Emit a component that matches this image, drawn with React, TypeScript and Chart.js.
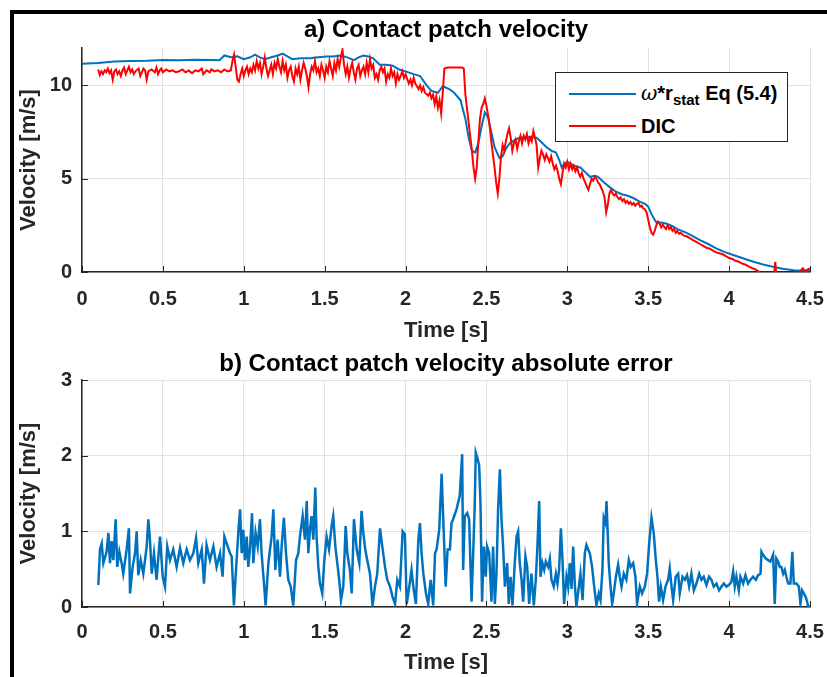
import React, { useEffect, useRef } from "react";
import { Chart, registerables } from "chart.js";

Chart.register(...registerables);

const FONT = "'Liberation Sans', Arial, Helvetica, sans-serif";

// ---------- data ----------
const timeTicks = [0, 0.5, 1, 1.5, 2, 2.5, 3, 3.5, 4, 4.5];
const velocityTicks = [0, 5, 10];
const errorTicks = [0, 1, 2, 3];

const titleA = "a) Contact patch velocity";
const titleB = "b) Contact patch velocity absolute error";
const xLabel = "Time [s]";
const yLabel = "Velocity [m/s]";

// omega * r_stat  (Eq 5.4)  [t, v]
const omegaSeries: [number, number][] = [
  [0, 11.15], [0.1, 11.2], [0.2, 11.28], [0.3, 11.3], [0.4, 11.32], [0.5, 11.36], [0.6, 11.35], [0.7, 11.37],
  [0.8, 11.36], [0.85, 11.35], [0.88, 11.6], [0.92, 11.5], [0.96, 11.55], [1.0, 11.4], [1.04, 11.5], [1.07, 11.65],
  [1.1, 11.5], [1.13, 11.4], [1.17, 11.5], [1.21, 11.6], [1.24, 11.7], [1.27, 11.55], [1.3, 11.4], [1.35, 11.45],
  [1.41, 11.45], [1.46, 11.5], [1.51, 11.55], [1.55, 11.55], [1.6, 11.6], [1.64, 11.5], [1.68, 11.35], [1.71, 11.5],
  [1.74, 11.6], [1.77, 11.55], [1.8, 11.45], [1.84, 11.1], [1.88, 11.1], [1.92, 11.05], [1.96, 10.85], [2.0, 10.75],
  [2.05, 10.6], [2.09, 10.5], [2.13, 10.0], [2.16, 9.7], [2.2, 9.6], [2.23, 9.95], [2.27, 9.8], [2.3, 9.6],
  [2.34, 9.2], [2.37, 8.2], [2.39, 7.2], [2.41, 6.5], [2.43, 6.4], [2.45, 6.9], [2.47, 7.8], [2.49, 8.55],
  [2.51, 8.3], [2.53, 7.5], [2.55, 6.7], [2.58, 6.1], [2.6, 6.2], [2.62, 6.6], [2.645, 6.9], [2.68, 7.1],
  [2.71, 7.2], [2.74, 7.2], [2.78, 7.25], [2.81, 7.2], [2.84, 6.95], [2.87, 6.7], [2.9, 6.5], [2.93, 6.4],
  [2.95, 6.0], [2.965, 5.6], [2.98, 5.8], [3.0, 5.9], [3.04, 5.7], [3.08, 5.6], [3.11, 5.35], [3.14, 5.1],
  [3.17, 5.15], [3.19, 5.1], [3.22, 4.85], [3.26, 4.56], [3.3, 4.3], [3.34, 4.15], [3.37, 4.1], [3.41, 3.95],
  [3.45, 3.76], [3.48, 3.65], [3.5, 3.5], [3.52, 3.1], [3.55, 2.65], [3.58, 2.65], [3.61, 2.6], [3.65, 2.45],
  [3.68, 2.3], [3.72, 2.16], [3.77, 1.95], [3.82, 1.71], [3.87, 1.5], [3.92, 1.27], [3.97, 1.08], [4.03, 0.9],
  [4.09, 0.72], [4.15, 0.55], [4.21, 0.4], [4.27, 0.28], [4.33, 0.18], [4.4, 0.1], [4.45, 0.07], [4.5, 0.08],
];

// DIC measurement [t, v]  (null = gap)
const dicSeries: [number, number | null][] = [
  [0.10, 10.85], [0.11, 10.55], [0.12, 10.75], [0.13, 10.6], [0.14, 10.8], [0.15, 10.7], [0.16, 10.9], [0.17, 10.65],
  [0.18, 10.8], [0.19, 10.3], [0.20, 10.75], [0.21, 10.85], [0.22, 10.6], [0.23, 10.75], [0.24, 10.5], [0.25, 10.8],
  [0.26, 10.95], [0.27, 10.6], [0.28, 10.8], [0.29, 11.0], [0.30, 10.7], [0.31, 10.85], [0.32, 10.6], [0.33, 10.75],
  [0.35, 10.9], [0.36, 10.5], [0.37, 10.7], [0.38, 10.9], [0.39, 10.8], [0.40, 10.3], [0.41, 10.75], [0.43, 10.85],
  [0.45, 10.7], [0.46, 10.95], [0.47, 10.6], [0.48, 10.8], [0.49, 10.9], [0.50, 10.7], [0.52, 10.85], [0.54, 10.75],
  [0.56, 10.8], [0.58, 10.7], [0.60, 10.75], [0.62, 10.85], [0.64, 10.7], [0.66, 10.8], [0.68, 10.65], [0.70, 10.8],
  [0.72, 10.75], [0.74, 10.9], [0.75, 10.6], [0.77, 10.8], [0.79, 10.7], [0.80, 10.85], [0.82, 10.75], [0.84, 10.8],
  [0.86, 10.7], [0.88, 10.85], [0.90, 10.75], [0.92, 10.8], [0.93, 11.3], [0.94, 11.65], [0.95, 11.0], [0.96, 10.3],
  [0.97, 10.2], [0.98, 10.6], [0.99, 10.9], [1.00, 10.5], [1.01, 10.8], [1.02, 11.0], [1.03, 10.6], [1.04, 10.9],
  [1.05, 10.7], [1.06, 11.1], [1.07, 10.8], [1.08, 11.3], [1.09, 10.9], [1.10, 11.2], [1.11, 10.6], [1.12, 11.0],
  [1.13, 11.5], [1.14, 10.9], [1.15, 10.5], [1.16, 10.8], [1.17, 11.1], [1.18, 10.6], [1.19, 11.2], [1.20, 10.9],
  [1.21, 11.4], [1.22, 11.0], [1.23, 10.7], [1.24, 11.3], [1.25, 10.8], [1.26, 11.1], [1.27, 10.4], [1.28, 10.8],
  [1.29, 11.0], [1.30, 10.5], [1.31, 10.2], [1.32, 10.9], [1.33, 10.6], [1.34, 11.0], [1.35, 10.3], [1.36, 10.8],
  [1.37, 11.2], [1.38, 10.9], [1.39, 10.5], [1.40, 9.9], [1.41, 10.6], [1.42, 11.0], [1.43, 10.8], [1.44, 11.3],
  [1.45, 10.7], [1.46, 10.9], [1.47, 10.5], [1.48, 11.1], [1.49, 10.8], [1.50, 10.4], [1.51, 11.0], [1.52, 10.7],
  [1.53, 11.3], [1.54, 10.9], [1.55, 10.5], [1.56, 11.2], [1.57, 10.8], [1.58, 11.4], [1.59, 11.0], [1.60, 11.5],
  [1.61, 11.9], [1.62, 11.1], [1.63, 10.6], [1.64, 11.0], [1.65, 10.4], [1.66, 10.9], [1.67, 11.2], [1.68, 10.7],
  [1.69, 10.3], [1.70, 10.9], [1.71, 11.1], [1.72, 10.5], [1.73, 10.8], [1.74, 11.0], [1.75, 10.6], [1.76, 11.2],
  [1.77, 10.7], [1.78, 11.4], [1.79, 10.9], [1.80, 11.1], [1.81, 10.4], [1.82, 10.6], [1.83, 10.3], [1.84, 10.8],
  [1.85, 11.0], [1.86, 10.7], [1.87, 10.9], [1.88, 10.2], [1.89, 10.6], [1.90, 10.4], [1.91, 10.9], [1.92, 10.5],
  [1.93, 10.7], [1.94, 10.1], [1.95, 10.6], [1.96, 10.3], [1.97, 10.5], [1.98, 10.75], [1.99, 10.4], [2.00, 10.6],
  [2.02, 10.1], [2.03, 10.3], [2.04, 10.0], [2.05, 10.4], [2.06, 10.1], [2.08, 9.8], [2.09, 10.0], [2.10, 9.7],
  [2.11, 9.9], [2.12, 9.6], [2.14, 9.45], [2.15, 9.6], [2.16, 9.3], [2.17, 9.5], [2.18, 9.0], [2.19, 9.4],
  [2.20, 8.8], [2.21, 9.2], [2.22, 8.5], [2.23, 9.6], [2.24, 10.9], [2.26, 10.95], [2.30, 10.95], [2.35, 10.95],
  [2.36, 10.9], [2.37, 9.5], [2.39, 8.0], [2.41, 6.5], [2.42, 5.6], [2.43, 5.0], [2.44, 5.6], [2.45, 7.0],
  [2.46, 8.2], [2.47, 8.8], [2.48, 9.0], [2.49, 9.3], [2.50, 8.9], [2.51, 8.4], [2.52, 7.8], [2.53, 7.0],
  [2.54, 6.3], [2.55, 5.6], [2.56, 4.8], [2.57, 4.2], [2.58, 5.0], [2.59, 6.2], [2.60, 6.8], [2.61, 6.5],
  [2.62, 7.0], [2.63, 7.4], [2.64, 7.7], [2.65, 7.2], [2.66, 6.5], [2.67, 6.9], [2.68, 7.1], [2.69, 6.6],
  [2.70, 7.0], [2.71, 7.3], [2.72, 6.9], [2.73, 7.3], [2.74, 7.1], [2.75, 7.4], [2.76, 6.9], [2.77, 7.2],
  [2.78, 7.0], [2.79, 7.55], [2.80, 7.2], [2.81, 6.8], [2.82, 5.6], [2.83, 6.1], [2.84, 6.5], [2.85, 6.3],
  [2.86, 6.0], [2.87, 6.3], [2.88, 6.1], [2.89, 5.9], [2.90, 6.2], [2.91, 5.8], [2.92, 5.5], [2.93, 5.7],
  [2.94, 5.4], [2.95, 5.0], [2.96, 4.7], [2.97, 5.3], [2.98, 5.8], [2.99, 5.6], [3.00, 5.9], [3.01, 5.5],
  [3.02, 5.8], [3.03, 5.5], [3.04, 5.7], [3.05, 5.4], [3.06, 5.6], [3.07, 5.3], [3.08, 5.1], [3.09, 5.3],
  [3.10, 5.0], [3.11, 4.8], [3.12, 4.6], [3.13, 4.4], [3.14, 4.7], [3.15, 5.0], [3.16, 4.9], [3.17, 5.1],
  [3.18, 5.0], [3.19, 4.8], [3.20, 4.7], [3.21, 4.5], [3.22, 4.3], [3.23, 4.0], [3.24, 3.2], [3.25, 3.6],
  [3.26, 4.2], [3.27, 4.4], [3.28, 4.2], [3.29, 4.1], [3.30, 4.2], [3.31, 4.0], [3.32, 3.9], [3.33, 4.0],
  [3.34, 3.8], [3.35, 3.9], [3.36, 3.7], [3.37, 3.8], [3.38, 3.65], [3.39, 3.75], [3.40, 3.6], [3.41, 3.7],
  [3.42, 3.55], [3.43, 3.65], [3.44, 3.7], [3.45, 3.5], [3.46, 3.55], [3.47, 3.4], [3.48, 3.35], [3.49, 3.2],
  [3.50, 2.8], [3.51, 2.4], [3.52, 2.1], [3.53, 2.0], [3.54, 2.2], [3.55, 2.5], [3.56, 2.7], [3.57, 2.6],
  [3.58, 2.4], [3.59, 2.55], [3.60, 2.4], [3.61, 2.3], [3.62, 2.5], [3.63, 2.3], [3.64, 2.4], [3.65, 2.2],
  [3.66, 2.3], [3.67, 2.1], [3.68, 2.2], [3.69, 2.05], [3.70, 2.1], [3.72, 1.95], [3.74, 1.9], [3.76, 1.8],
  [3.78, 1.7], [3.80, 1.6], [3.82, 1.5], [3.84, 1.4], [3.86, 1.3], [3.88, 1.25], [3.90, 1.15], [3.92, 1.05],
  [3.94, 1.0], [3.96, 0.95], [3.98, 0.85], [4.00, 0.75], [4.02, 0.7], [4.04, 0.6], [4.06, 0.55], [4.08, 0.45],
  [4.10, 0.4], [4.12, 0.3], [4.14, 0.22], [4.16, 0.15], [4.18, 0.05], [4.19, 0.0], [4.20, null],
  [4.28, 0.0], [4.285, 0.55], [4.29, 0.0], [4.30, null],
  [4.44, 0.05], [4.455, 0.2], [4.47, 0.05], [4.49, 0.15], [4.5, 0.2],
];

// absolute error [t, v]
const errorSeries: [number, number][] = [
  [0.101, 0.29], [0.111, 0.76], [0.122, 0.84], [0.132, 0.58], [0.152, 0.73], [0.163, 0.98], [0.173, 0.58], [0.183, 0.87], [0.194, 0.62], [0.208, 1.16],
  [0.218, 0.53], [0.231, 0.73], [0.245, 0.58], [0.255, 0.44], [0.276, 0.76], [0.290, 1.04], [0.297, 0.18], [0.313, 0.53], [0.328, 0.71], [0.338, 1.00],
  [0.348, 0.42], [0.363, 0.62], [0.379, 0.44], [0.400, 0.80], [0.410, 1.16], [0.420, 0.89], [0.431, 0.44], [0.445, 0.71], [0.461, 0.36], [0.482, 0.93],
  [0.499, 0.40], [0.513, 0.27], [0.527, 0.80], [0.544, 0.62], [0.564, 0.76], [0.585, 0.53], [0.606, 0.78], [0.626, 0.58], [0.647, 0.76], [0.667, 0.62],
  [0.688, 0.71], [0.705, 0.91], [0.719, 0.58], [0.740, 0.76], [0.754, 0.31], [0.770, 0.82], [0.791, 0.62], [0.812, 0.80], [0.832, 0.53], [0.853, 0.71],
  [0.869, 0.40], [0.880, 0.93], [0.894, 0.84], [0.915, 0.71], [0.925, 0.67], [0.939, 0.02], [0.952, 0.49], [0.966, 0.98], [0.977, 1.29], [0.987, 0.71],
  [0.997, 1.02], [1.007, 0.62], [1.018, 0.93], [1.028, 0.53], [1.038, 0.76], [1.051, 1.24], [1.059, 0.58], [1.073, 0.98], [1.086, 0.80], [1.100, 1.16],
  [1.110, 0.71], [1.125, 0.31], [1.135, 0.02], [1.152, 0.58], [1.172, 0.93], [1.183, 1.29], [1.195, 0.49], [1.209, 0.89], [1.224, 0.40], [1.234, 0.80],
  [1.248, 1.18], [1.261, 0.71], [1.275, 0.36], [1.290, 0.27], [1.306, 0.02], [1.323, 0.62], [1.337, 0.71], [1.347, 0.93], [1.364, 1.20], [1.378, 0.89],
  [1.389, 1.40], [1.399, 0.71], [1.409, 1.02], [1.419, 1.20], [1.430, 0.89], [1.442, 1.58], [1.450, 0.93], [1.461, 0.53], [1.471, 0.31], [1.485, 0.18],
  [1.498, 0.62], [1.512, 0.93], [1.527, 0.76], [1.543, 1.07], [1.553, 1.20], [1.566, 0.80], [1.578, 0.58], [1.590, 0.36], [1.601, 0.09], [1.615, 0.27],
  [1.630, 1.07], [1.640, 0.71], [1.656, 0.49], [1.667, 0.18], [1.681, 1.16], [1.698, 0.76], [1.714, 0.58], [1.728, 1.27], [1.739, 0.98], [1.751, 0.76],
  [1.763, 0.62], [1.780, 0.44], [1.796, 0.02], [1.811, 0.27], [1.825, 0.44], [1.842, 1.04], [1.856, 0.80], [1.873, 0.53], [1.887, 0.36], [1.904, 0.27],
  [1.920, 0.13], [1.935, 0.04], [1.949, 0.36], [1.965, 0.27], [1.982, 1.00], [1.996, 0.96], [2.007, 0.04], [2.023, 0.27], [2.037, 0.49], [2.048, 0.27],
  [2.064, 0.04], [2.079, 0.89], [2.089, 1.11], [2.099, 0.71], [2.110, 0.44], [2.126, 0.18], [2.140, 0.04], [2.155, 0.36], [2.171, 0.02], [2.182, 0.71],
  [2.192, 0.76], [2.208, 1.02], [2.223, 1.76], [2.233, 1.16], [2.248, 0.27], [2.260, 0.76], [2.274, 0.76], [2.284, 1.11], [2.294, 1.16], [2.315, 1.29],
  [2.335, 1.47], [2.350, 2.02], [2.356, 0.49], [2.366, 1.20], [2.381, 1.24], [2.393, 1.16], [2.408, 0.07], [2.418, 0.71], [2.428, 1.38], [2.434, 2.04],
  [2.445, 1.96], [2.455, 1.87], [2.463, 1.38], [2.473, 0.07], [2.484, 0.80], [2.496, 0.40], [2.504, 0.80], [2.517, 0.71], [2.531, 0.07], [2.541, 0.80],
  [2.552, 0.04], [2.562, 0.44], [2.572, 1.29], [2.583, 1.82], [2.593, 1.16], [2.603, 0.80], [2.614, 0.27], [2.628, 0.58], [2.638, 0.04], [2.649, 0.40],
  [2.661, 0.02], [2.675, 0.58], [2.686, 0.93], [2.696, 1.00], [2.706, 0.58], [2.717, 0.36], [2.727, 0.07], [2.741, 0.67], [2.752, 0.53], [2.764, 0.04],
  [2.778, 0.44], [2.793, 0.02], [2.805, 0.36], [2.815, 0.80], [2.826, 1.40], [2.834, 0.40], [2.846, 0.58], [2.857, 0.49], [2.867, 0.60], [2.881, 0.53],
  [2.892, 0.64], [2.902, 0.36], [2.916, 0.27], [2.929, 0.44], [2.939, 0.31], [2.949, 0.49], [2.960, 1.04], [2.970, 0.62], [2.980, 0.04], [2.995, 0.40],
  [3.005, 0.27], [3.015, 0.58], [3.026, 0.24], [3.036, 0.80], [3.046, 0.31], [3.056, 0.00], [3.071, 0.27], [3.081, 0.44], [3.094, 0.09], [3.108, 0.71],
  [3.118, 0.82], [3.129, 0.76], [3.139, 0.71], [3.153, 0.53], [3.166, 0.27], [3.180, 0.02], [3.194, 0.18], [3.205, 0.09], [3.217, 0.49], [3.225, 1.18],
  [3.236, 1.11], [3.242, 1.40], [3.248, 1.07], [3.256, 0.58], [3.267, 0.27], [3.277, 0.04], [3.287, 0.18], [3.300, 0.40], [3.314, 0.56], [3.324, 0.40],
  [3.335, 0.27], [3.349, 0.44], [3.365, 0.36], [3.380, 0.62], [3.392, 0.53], [3.407, 0.58], [3.421, 0.40], [3.431, 0.04], [3.448, 0.27], [3.462, 0.18],
  [3.479, 0.27], [3.493, 0.44], [3.506, 0.84], [3.520, 1.18], [3.534, 0.98], [3.547, 0.62], [3.557, 0.40], [3.567, 0.07], [3.578, 0.27], [3.592, 0.09],
  [3.607, 0.27], [3.623, 0.36], [3.633, 0.51], [3.644, 0.27], [3.654, 0.09], [3.670, 0.40], [3.685, 0.44], [3.695, 0.18], [3.712, 0.40], [3.726, 0.36],
  [3.740, 0.42], [3.753, 0.27], [3.767, 0.44], [3.782, 0.22], [3.798, 0.31], [3.815, 0.44], [3.829, 0.36], [3.843, 0.40], [3.860, 0.29], [3.876, 0.40],
  [3.891, 0.36], [3.905, 0.27], [3.922, 0.31], [3.938, 0.22], [3.953, 0.27], [3.967, 0.31], [3.984, 0.27], [3.998, 0.29], [4.014, 0.33], [4.025, 0.47],
  [4.035, 0.27], [4.045, 0.40], [4.060, 0.22], [4.070, 0.40], [4.087, 0.31], [4.101, 0.42], [4.117, 0.31], [4.132, 0.36], [4.148, 0.40], [4.165, 0.36],
  [4.179, 0.42], [4.194, 0.44], [4.200, 0.73], [4.210, 0.69], [4.227, 0.64], [4.241, 0.62], [4.255, 0.60], [4.272, 0.69], [4.282, 0.04], [4.292, 0.64],
  [4.303, 0.60], [4.313, 0.53], [4.323, 0.53], [4.334, 0.44], [4.344, 0.49], [4.354, 0.40], [4.365, 0.31], [4.379, 0.31], [4.391, 0.73], [4.400, 0.31],
  [4.416, 0.31], [4.431, 0.27], [4.441, 0.04], [4.451, 0.22], [4.462, 0.18], [4.474, 0.13], [4.482, 0.07], [4.490, 0.00], [4.499, 0.02],
];

// ---------- styling ----------
const BLUE = "#0072BD";
const RED = "#FF0000";
const AXIS = "#262626";
const GRID = "#e1e1e1";

const toPoints = (arr: [number, number | null][]) => arr.map(([x, y]) => ({ x, y }));

const inwardTicks = {
  id: "inwardTicks",
  afterDraw(chart: any) {
    const { ctx, chartArea, scales } = chart;
    ctx.save();
    ctx.strokeStyle = AXIS;
    ctx.lineWidth = 1;
    scales.x.ticks.forEach((t: any) => {
      const px = Math.round(scales.x.getPixelForValue(t.value)) + 0.5;
      ctx.beginPath();
      ctx.moveTo(px, chartArea.bottom);
      ctx.lineTo(px, chartArea.bottom - 6);
      ctx.stroke();
    });
    scales.y.ticks.forEach((t: any) => {
      const py = Math.round(scales.y.getPixelForValue(t.value)) + 0.5;
      ctx.beginPath();
      ctx.moveTo(chartArea.left, py);
      ctx.lineTo(chartArea.left + 6, py);
      ctx.stroke();
    });
    ctx.restore();
  },
};

function makeOptions(p: {
  title: string;
  titleHeight: number;
  titlePadTop: number;
  yMax: number;
  yTicks: number[];
  xHeight: number;
  xTickPad: number;
  xTitlePad: number;
}) {
  return {
    responsive: false,
    maintainAspectRatio: false,
    animation: false,
    devicePixelRatio: 1,
    layout: { padding: { left: 0, right: 17, top: 0, bottom: 0 } },
    plugins: {
      legend: { display: false },
      tooltip: { enabled: false },
      title: { display: false },
    },
    scales: {
      // top axis used only to carry the panel title, centred over the plot area
      t: {
        type: "linear",
        position: "top",
        min: 0,
        max: 1,
        afterFit: (s: any) => {
          s.height = p.titleHeight;
          s.paddingLeft = 0;
          s.paddingRight = 0;
        },
        ticks: { display: false },
        grid: { display: false, drawTicks: false },
        border: { display: false },
        title: {
          display: true,
          text: p.title,
          color: "#000",
          font: { family: FONT, size: 24, weight: "bold" },
          padding: { top: p.titlePadTop, bottom: 0 },
        },
      },
      x: {
        type: "linear",
        min: 0,
        max: 4.5,
        afterBuildTicks: (s: any) => {
          s.ticks = timeTicks.map((v) => ({ value: v }));
        },
        afterFit: (s: any) => {
          s.height = p.xHeight;
          s.paddingLeft = 0;
          s.paddingRight = 0;
        },
        ticks: {
          color: AXIS,
          font: { family: FONT, size: 20, weight: "bold" },
          padding: p.xTickPad,
          maxRotation: 0,
          autoSkip: false,
          callback: (v: any) => String(v),
        },
        grid: { color: GRID, lineWidth: 1, drawTicks: false },
        border: { display: true, color: AXIS, width: 1.5 },
        title: {
          display: true,
          text: xLabel,
          color: AXIS,
          font: { family: FONT, size: 22, weight: "bold" },
          padding: { top: 0, bottom: p.xTitlePad },
        },
      },
      y: {
        type: "linear",
        min: 0,
        max: p.yMax,
        afterBuildTicks: (s: any) => {
          s.ticks = p.yTicks.map((v) => ({ value: v }));
        },
        afterFit: (s: any) => {
          s.width = 82;
          s.paddingTop = 0;
          s.paddingBottom = 0;
        },
        ticks: {
          color: AXIS,
          font: { family: FONT, size: 20, weight: "bold" },
          padding: 10,
          callback: (v: any) => String(v),
        },
        grid: { color: GRID, lineWidth: 1, drawTicks: false },
        border: { display: true, color: AXIS, width: 1.5 },
        title: {
          display: true,
          text: yLabel,
          color: AXIS,
          font: { family: FONT, size: 22, weight: "bold" },
          padding: { top: 16, bottom: 0 },
        },
      },
    },
  };
}

export default function App() {
  const topRef = useRef<HTMLCanvasElement | null>(null);
  const botRef = useRef<HTMLCanvasElement | null>(null);

  useEffect(() => {
    const top = new Chart(topRef.current as HTMLCanvasElement, {
      type: "line",
      data: {
        datasets: [
          {
            label: "DIC",
            data: toPoints(dicSeries),
            borderColor: RED,
            borderWidth: 2,
            pointRadius: 0,
            spanGaps: false,
            order: 0,
            xAxisID: "x",
            yAxisID: "y",
          },
          {
            label: "ω*r_stat Eq (5.4)",
            data: toPoints(omegaSeries),
            borderColor: BLUE,
            borderWidth: 2,
            pointRadius: 0,
            order: 1,
            xAxisID: "x",
            yAxisID: "y",
          },
        ],
      } as any,
      options: makeOptions({
        title: titleA,
        titleHeight: 48,
        titlePadTop: 16,
        yMax: 12,
        yTicks: velocityTicks,
        xHeight: 73,
        xTickPad: 15,
        xTitlePad: 1,
      }) as any,
      plugins: [inwardTicks],
    });

    const bot = new Chart(botRef.current as HTMLCanvasElement, {
      type: "line",
      data: {
        datasets: [
          {
            label: "error",
            data: toPoints(errorSeries),
            borderColor: BLUE,
            borderWidth: 2.5,
            pointRadius: 0,
            xAxisID: "x",
            yAxisID: "y",
          },
        ],
      } as any,
      options: makeOptions({
        title: titleB,
        titleHeight: 35,
        titlePadTop: 5,
        yMax: 3,
        yTicks: errorTicks,
        xHeight: 70,
        xTickPad: 13,
        xTitlePad: 1,
      }) as any,
      plugins: [inwardTicks],
    });

    return () => {
      top.destroy();
      bot.destroy();
    };
  }, []);

  const legendText: React.CSSProperties = {
    position: "absolute",
    left: 85,
    fontFamily: FONT,
    fontWeight: "bold",
    fontSize: 20,
    color: "#000",
    whiteSpace: "nowrap",
    lineHeight: "22px",
  };

  return (
    <div
      style={{
        position: "fixed",
        left: 0,
        top: 0,
        width: 827,
        height: 677,
        background: "#fff",
        overflow: "hidden",
      }}
    >
      <div
        style={{
          position: "absolute",
          left: 10,
          top: 10,
          width: 1000,
          height: 1000,
          borderLeft: "4px solid #000",
          borderTop: "4px solid #000",
        }}
      />
      <canvas ref={topRef} width={827} height={345} style={{ position: "absolute", left: 0, top: 0 }} />
      <canvas ref={botRef} width={827} height={332} style={{ position: "absolute", left: 0, top: 345 }} />
      <div
        style={{
          position: "absolute",
          left: 555,
          top: 72,
          width: 231,
          height: 68,
          border: `1px solid ${AXIS}`,
          background: "#fff",
        }}
      >
        <div style={{ position: "absolute", left: 13, top: 20, width: 67, height: 2, background: BLUE }} />
        <div style={{ ...legendText, top: 9 }}>
          <span style={{ fontStyle: "italic", fontWeight: "normal", fontFamily: "'DejaVu Serif', serif" }}>ω</span>*r
          <sub style={{ fontSize: 15, lineHeight: 0, verticalAlign: -5 }}>stat</sub> Eq (5.4)
        </div>
        <div style={{ position: "absolute", left: 13, top: 52, width: 67, height: 2, background: RED }} />
        <div style={{ ...legendText, top: 42 }}>DIC</div>
      </div>
    </div>
  );
}
